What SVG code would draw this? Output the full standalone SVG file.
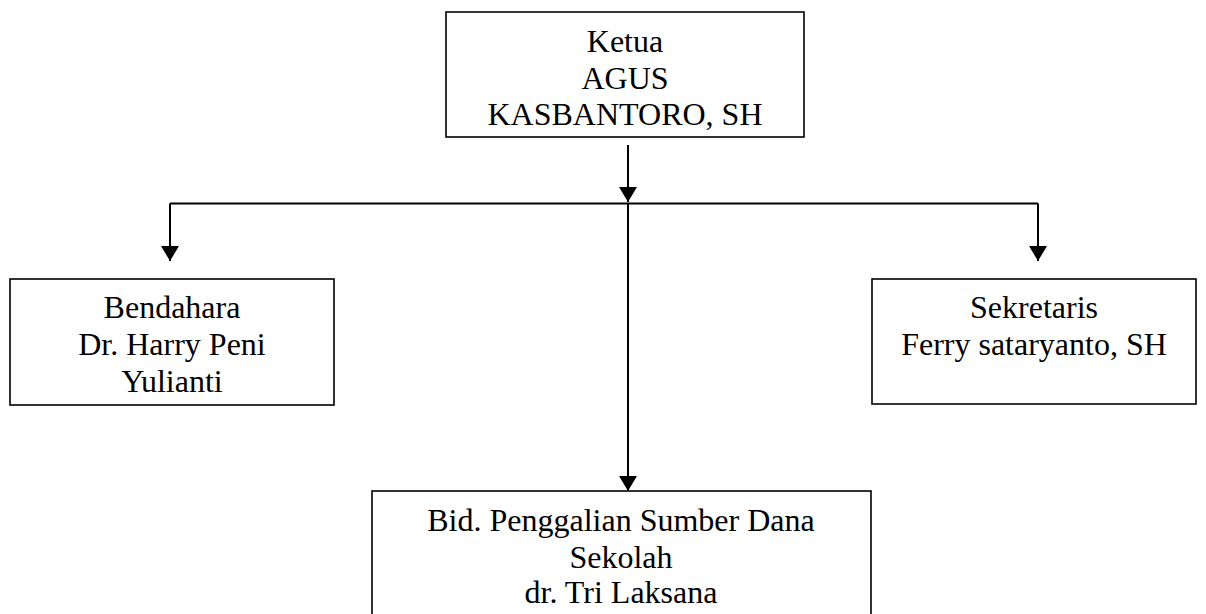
<svg xmlns="http://www.w3.org/2000/svg" width="1206" height="614" viewBox="0 0 1206 614">
<defs>
<marker id="arrow" markerUnits="userSpaceOnUse" markerWidth="15" markerHeight="18" viewBox="0 0 15 18" refX="15" refY="9" orient="auto">
<path d="M0,0 L15,9 L0,18 Z" fill="#000"/>
</marker>
<style>
.box{fill:#fff;stroke:#000;stroke-width:1.6}
.lbl{font-family:"Liberation Serif","Times New Roman",serif;font-size:32px;fill:#000;text-anchor:middle}
.con{fill:none;stroke:#000;stroke-width:2}
</style>
</defs>
<rect width="1206" height="614" fill="#fff"/>
<g id="connectors">
<path class="con" d="M628,145 L628,202" marker-end="url(#arrow)"/>
<path class="con" d="M170,203.5 L1038,203.5"/>
<path class="con" d="M170,203.5 L170,261" marker-end="url(#arrow)"/>
<path class="con" d="M1038,203.5 L1038,261" marker-end="url(#arrow)"/>
<path class="con" d="M628,203.5 L628,491" marker-end="url(#arrow)"/>
</g>
<g id="ketua">
<rect class="box" x="446" y="12" width="358" height="125"/>
<text class="lbl" x="625" y="52">Ketua</text>
<text class="lbl" x="625" y="89">AGUS</text>
<text class="lbl" x="625" y="125">KASBANTORO, SH</text>
</g>
<g id="bendahara">
<rect class="box" x="10" y="279" width="324" height="126"/>
<text class="lbl" x="172" y="318">Bendahara</text>
<text class="lbl" x="172" y="355">Dr. Harry Peni</text>
<text class="lbl" x="172" y="392">Yulianti</text>
</g>
<g id="sekretaris">
<rect class="box" x="872" y="279" width="324" height="125"/>
<text class="lbl" x="1034" y="318">Sekretaris</text>
<text class="lbl" x="1034" y="355">Ferry sataryanto, SH</text>
</g>
<g id="bidang">
<rect class="box" x="372" y="491" width="499" height="160"/>
<text class="lbl" x="621" y="531">Bid. Penggalian Sumber Dana</text>
<text class="lbl" x="621" y="568">Sekolah</text>
<text class="lbl" x="621" y="603">dr. Tri Laksana</text>
</g>
</svg>
